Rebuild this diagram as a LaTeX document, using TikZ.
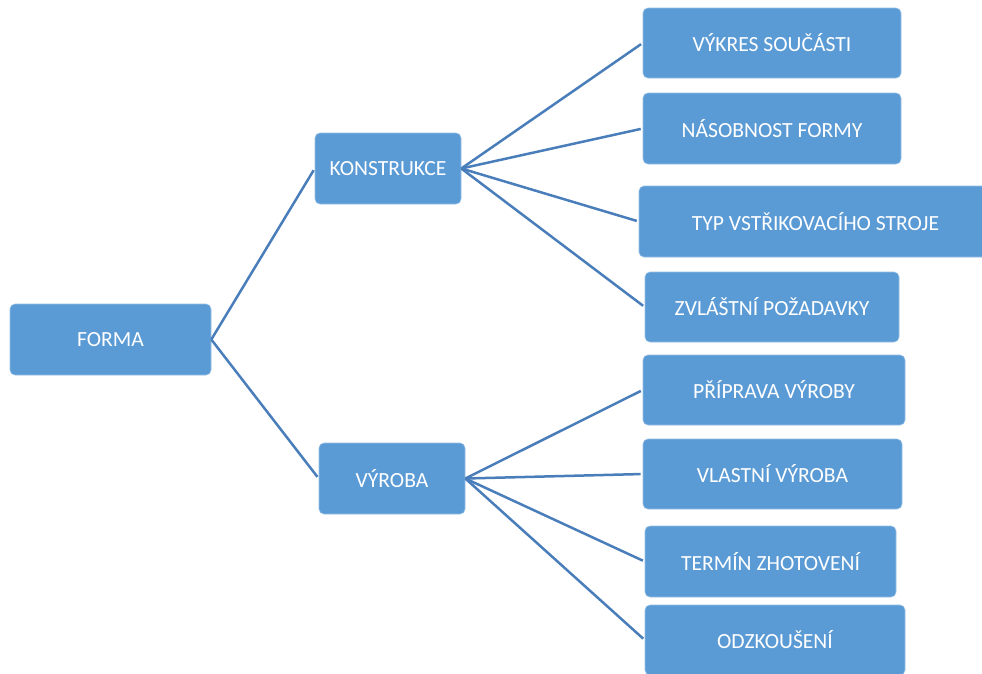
\documentclass[tikz,border=0pt]{standalone}
\usepackage{fontspec}
\setmainfont{Carlito}
\definecolor{boxblue}{HTML}{5B9BD5}
\definecolor{lineblue}{HTML}{4A7EBB}
\tikzset{
  box/.style={fill=boxblue, draw=boxblue!65!white, line width=0.6pt, rounded corners=5pt,
    text=white, font=\fontsize{21.6}{25}\selectfont, inner sep=0pt},
  link/.style={draw=lineblue, line width=2.5pt, shorten >=2pt}
}
\begin{document}
\begin{tikzpicture}[x=1pt,y=1pt]
\useasboundingbox (0,0) rectangle (982,-673);
\node[box, minimum width=201pt, minimum height=71pt] (forma) at (110.5,-339.5) {FORMA};
\node[box, minimum width=146pt, minimum height=71pt] (konst) at (388,-168.5) {KONSTRUKCE};
\node[box, minimum width=146pt, minimum height=71pt] (vyroba) at (392,-478.5) {VÝROBA};
\node[box, minimum width=258pt, minimum height=70pt] (vykres) at (772,-43) {VÝKRES SOUČÁSTI};
\node[box, minimum width=258pt, minimum height=71pt] (nasob) at (772,-128.5) {NÁSOBNOST FORMY};
\node[box, minimum width=353pt, minimum height=71pt] (typ) at (815.5,-221.5) {TYP VSTŘIKOVACÍHO STROJE};
\node[box, minimum width=254pt, minimum height=70pt] (zvl) at (772,-307) {ZVLÁŠTNÍ POŽADAVKY};
\node[box, minimum width=262pt, minimum height=70pt] (prip) at (774,-390) {PŘÍPRAVA VÝROBY};
\node[box, minimum width=259pt, minimum height=70pt] (vlast) at (772.5,-474) {VLASTNÍ VÝROBA};
\node[box, minimum width=251pt, minimum height=71pt] (term) at (770.5,-561.5) {TERMÍN ZHOTOVENÍ};
\node[box, minimum width=260pt, minimum height=70pt] (odzk) at (775,-640) {ODZKOUŠENÍ};
\draw[link] (forma.east) -- (konst.west);
\draw[link] (forma.east) -- (vyroba.west);
\foreach \t in {vykres,nasob,typ,zvl} \draw[link] (konst.east) -- (\t.west);
\foreach \t in {prip,vlast,term,odzk} \draw[link] (vyroba.east) -- (\t.west);
\end{tikzpicture}
\end{document}
